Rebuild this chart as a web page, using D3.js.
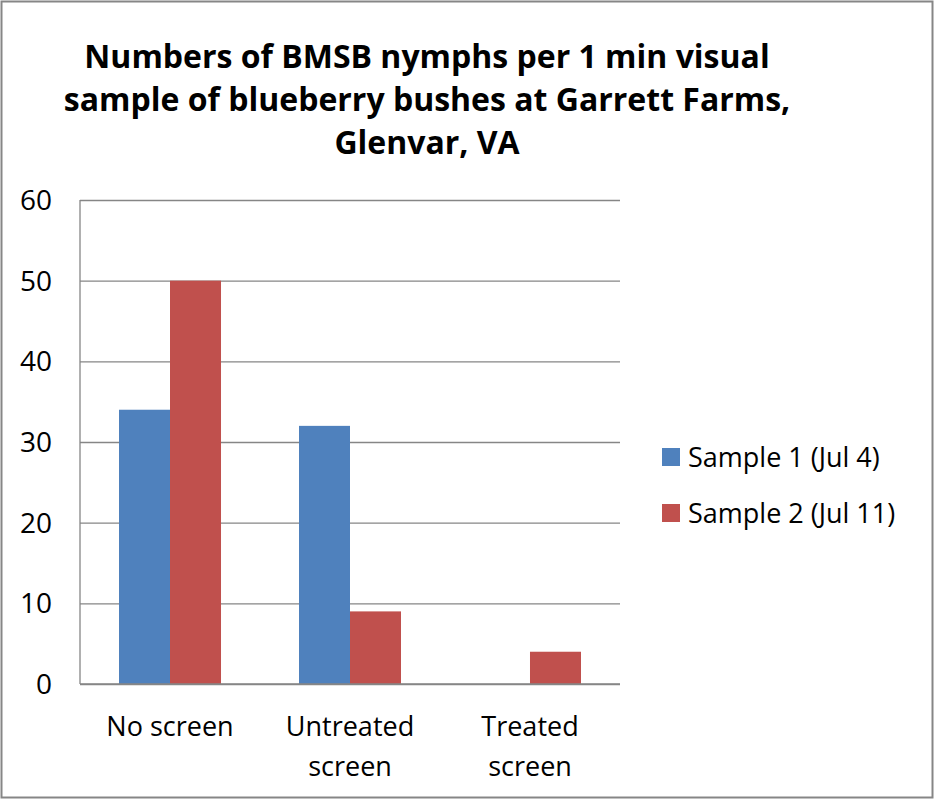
<!DOCTYPE html>
<html>
<head>
<meta charset="utf-8">
<script src="https://cdn.jsdelivr.net/npm/d3@7"></script>
<style>
  body { margin: 0; background: #fff; }
  text { font-family: "Open Sans", "Noto Sans", sans-serif; fill: #000; }
</style>
</head>
<body>
<svg id="chart" width="935" height="800"></svg>
<script>
const categories = ["No screen", "Untreated screen", "Treated screen"];
const seriesNames = ["Sample 1 (Jul 4)", "Sample 2 (Jul 11)"];
const sample1 = [34, 32, 0];
const sample2 = [50, 9, 4];
const yTicks = [0, 10, 20, 30, 40, 50, 60];
const titleLines = ["Numbers of BMSB nymphs per 1 min visual", "sample of blueberry bushes at Garrett Farms,", "Glenvar, VA"];
const colors = ["#4F81BD", "#C0504D"];

const svg = d3.select("#chart");
const margin = {top: 200, left: 80, right: 315, bottom: 116};
const width = 935 - margin.left - margin.right;
const height = 800 - margin.top - margin.bottom;

// outer border
svg.append("rect")
  .attr("x", 1.5).attr("y", 1.5)
  .attr("width", 931).attr("height", 796)
  .attr("fill", "#fff").attr("stroke", "#868686").attr("stroke-width", 2);

svg.append("g")
  .selectAll("text")
  .data(titleLines)
  .join("text")
    .attr("x", 427)
    .attr("y", (d, i) => 68 + i * 43)
    .attr("text-anchor", "middle")
    .attr("font-size", 32)
    .attr("font-weight", "bold")
    .text(d => d);

const x0 = d3.scaleBand().domain(d3.range(categories.length)).range([0, width]).paddingInner(0.4333).paddingOuter(0.2167);
const x1 = d3.scaleBand().domain([0, 1]).range([0, x0.bandwidth()]);
const y = d3.scaleLinear().domain([0, 60]).range([height, 0]);

const g = svg.append("g").attr("transform", `translate(${margin.left},${margin.top})`);

// gridlines
g.append("g")
  .call(d3.axisLeft(y).tickValues(yTicks).tickSize(-width).tickFormat(""))
  .call(s => s.select(".domain").remove())
  .call(s => s.selectAll("line").attr("stroke", "#868686").attr("stroke-width", 1.3));

// y labels
g.append("g")
  .selectAll("text")
  .data(yTicks)
  .join("text")
    .attr("x", -28)
    .attr("y", d => y(d) + 10)
    .attr("text-anchor", "end")
    .attr("font-size", 28)
    .text(d => d);

const data = categories.map((c, i) => [sample1[i], sample2[i]]);
g.append("g")
  .selectAll("g")
  .data(data)
  .join("g")
    .attr("transform", (d, i) => `translate(${x0(i)},0)`)
  .selectAll("rect")
  .data(d => d)
  .join("rect")
    .attr("x", (d, j) => x1(j))
    .attr("y", d => y(d))
    .attr("width", x1.bandwidth())
    .attr("height", d => height - y(d))
    .attr("fill", (d, j) => colors[j]);

// axis lines
g.append("line").attr("x1", 0).attr("x2", 0).attr("y1", 0).attr("y2", height).attr("stroke", "#868686").attr("stroke-width", 1.3);
g.append("line").attr("x1", 0).attr("x2", width).attr("y1", height).attr("y2", height).attr("stroke", "#868686").attr("stroke-width", 1.3);

// category labels
g.append("g")
  .selectAll("text")
  .data(categories)
  .join("text")
    .attr("text-anchor", "middle")
    .attr("font-size", 27)
    .attr("transform", (d, i) => `translate(${x0(i) + x0.bandwidth() / 2},${height + 52})`)
  .selectAll("tspan")
  .data(d => d === "No screen" ? [d] : d.split(" "))
  .join("tspan")
    .attr("x", 0)
    .attr("dy", (d, i) => i === 0 ? 0 : 40)
    .text(d => d);

// legend
const legend = svg.append("g").attr("transform", "translate(662,448)");
legend.selectAll("g")
  .data(seriesNames)
  .join("g")
    .attr("transform", (d, i) => `translate(0,${i * 56})`)
  .call(s => s.append("rect").attr("width", 18).attr("height", 18).attr("fill", (d, i) => colors[i]))
  .call(s => s.append("text").attr("x", 26).attr("y", 19).attr("font-size", 27).text(d => d));
</script>
</body>
</html>
